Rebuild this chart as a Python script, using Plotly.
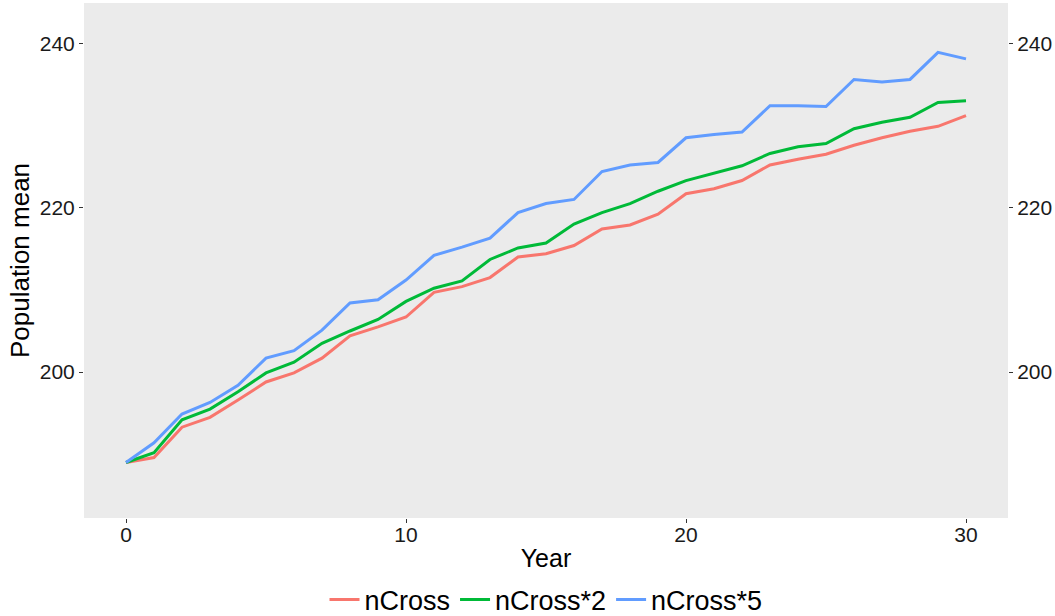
import plotly.graph_objects as go

years = list(range(0, 31))
series_names = ["nCross", "nCross*2", "nCross*5"]
ncross = [189.0, 189.6, 193.3, 194.5, 196.6, 198.8, 199.9, 201.7, 204.4, 205.5,
          206.7, 209.7, 210.4, 211.5, 214.0, 214.4, 215.4, 217.4, 217.9, 219.2,
          221.7, 222.3, 223.3, 225.2, 225.9, 226.5, 227.6, 228.5, 229.3, 229.9, 231.2]
ncross2 = [189.0, 190.2, 194.2, 195.5, 197.6, 199.9, 201.2, 203.5, 205.0, 206.4,
           208.6, 210.2, 211.1, 213.7, 215.1, 215.7, 218.0, 219.4, 220.5, 222.0,
           223.3, 224.2, 225.1, 226.6, 227.4, 227.8, 229.6, 230.4, 231.0, 232.8, 233.0]
ncross5 = [189.0, 191.4, 194.9, 196.3, 198.4, 201.7, 202.6, 205.1, 208.4, 208.8,
           211.2, 214.2, 215.2, 216.3, 219.4, 220.5, 221.0, 224.4, 225.2, 225.5,
           228.5, 228.9, 229.2, 232.4, 232.4, 232.3, 235.6, 235.3, 235.6, 238.9, 238.1]
colors = ["#F8766D", "#00BA38", "#619CFF"]
y_ticks = [200, 220, 240]
x_ticks = [0, 10, 20, 30]

fig = go.Figure()
for name, vals, col in zip(series_names, [ncross, ncross2, ncross5], colors):
    fig.add_trace(go.Scatter(x=years, y=vals, mode="lines", name=name,
                             line=dict(color=col, width=3)))
# invisible trace to anchor the mirrored right axis
fig.add_trace(go.Scatter(x=years, y=ncross, yaxis="y2", mode="lines",
                         line=dict(color="rgba(0,0,0,0)", width=0),
                         showlegend=False, hoverinfo="skip"))

font_family = "Liberation Sans, Arial, sans-serif"
yrange = [182.25, 244.9]
tick_font = dict(size=21, color="#1a1a1a")
fig.update_layout(
    width=1055, height=616,
    margin=dict(l=84, r=47, t=3, b=98, autoexpand=False),
    paper_bgcolor="white", plot_bgcolor="#EBEBEB",
    font=dict(family=font_family, color="#1a1a1a"),
    xaxis=dict(range=[-1.5, 31.5], tickvals=x_ticks, showgrid=False, zeroline=False,
               ticks="outside", ticklen=4, tickwidth=1, tickcolor="#333333",
               tickfont=tick_font, automargin=False, ticklabelstandoff=-6,
               title=dict(text="Year", font=dict(size=25, color="#000000"), standoff=4)),
    yaxis=dict(range=yrange, tickvals=y_ticks, showgrid=False, zeroline=False,
               ticks="outside", ticklen=4, tickwidth=1, tickcolor="#333333",
               tickfont=tick_font, automargin=False,
               title=dict(text="Population mean", font=dict(size=26, color="#000000"), standoff=2)),
    yaxis2=dict(range=yrange, tickvals=y_ticks, overlaying="y", side="right",
                showgrid=False, zeroline=False, automargin=False,
                ticks="outside", ticklen=4, tickwidth=1, tickcolor="#333333",
                tickfont=tick_font),
    legend=dict(orientation="h", x=0.5, xanchor="center",
                yref="container", y=0.026, yanchor="middle",
                font=dict(size=27, color="#000000"), bgcolor="rgba(0,0,0,0)",
                itemwidth=30, tracegroupgap=0),
    showlegend=True,
)
fig.write_html("out.html")
